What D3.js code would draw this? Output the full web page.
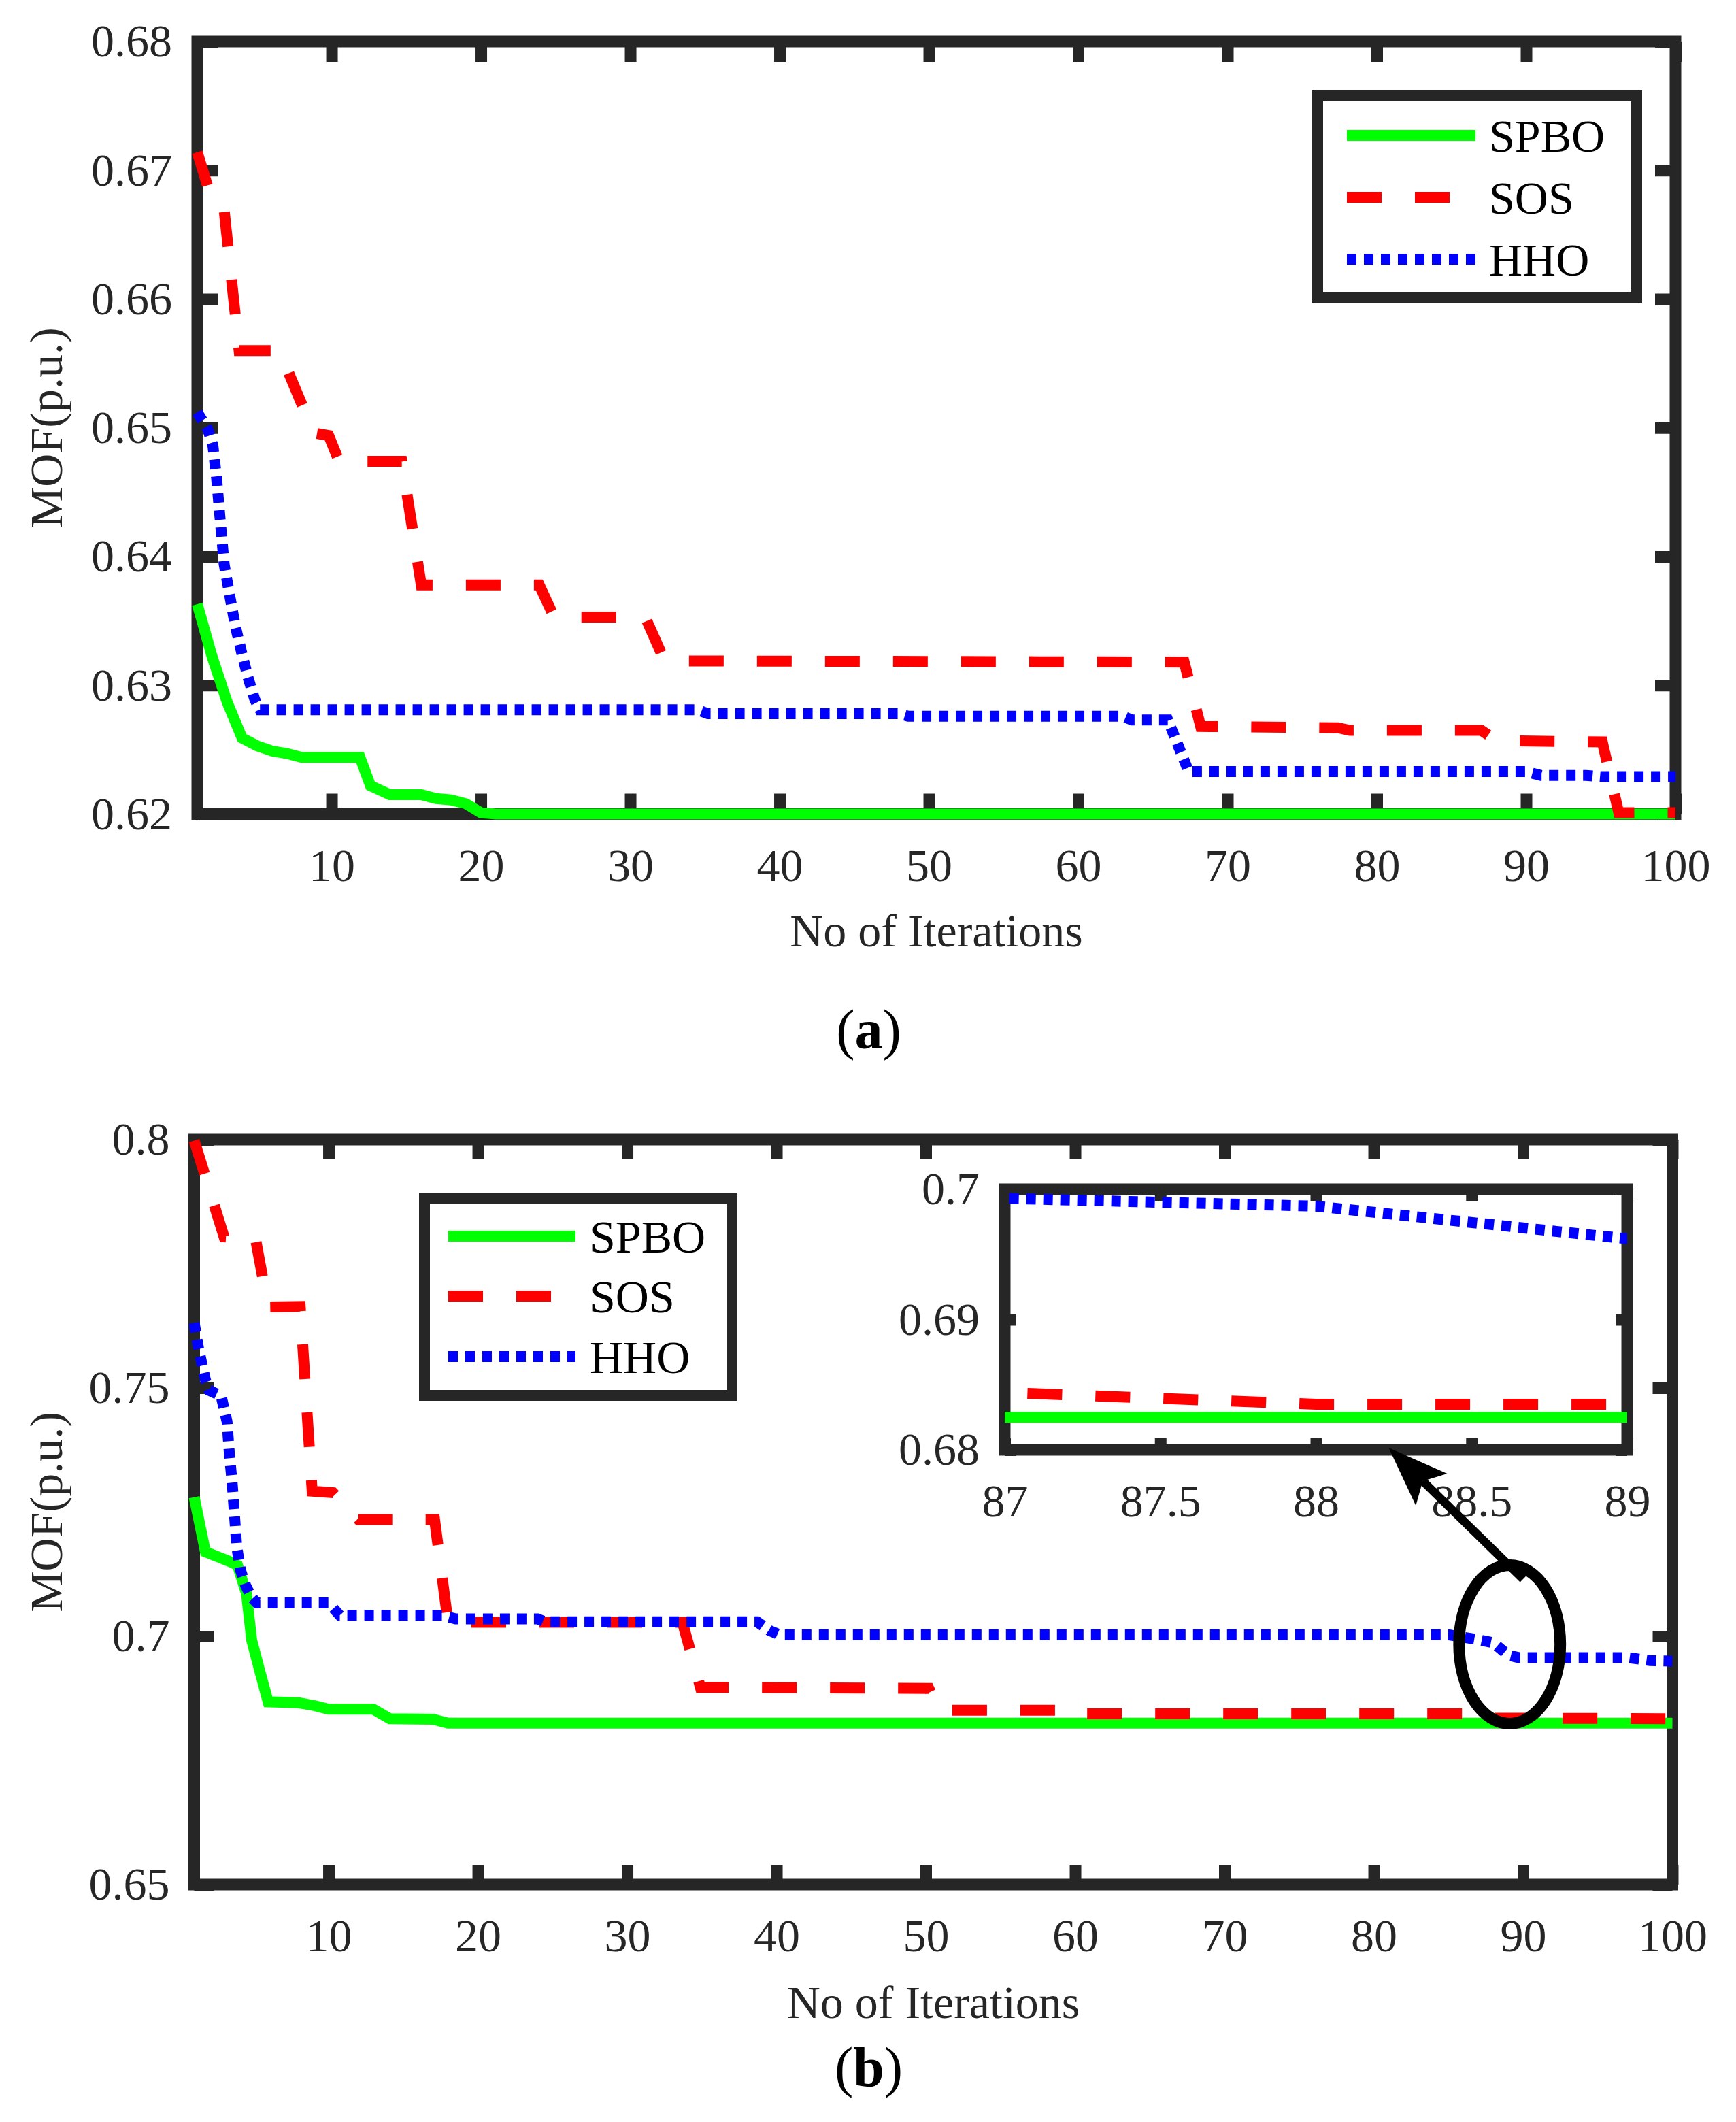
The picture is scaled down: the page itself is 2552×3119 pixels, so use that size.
<!DOCTYPE html>
<html>
<head>
<meta charset="utf-8">
<script src="https://cdn.jsdelivr.net/npm/d3@7/dist/d3.min.js"></script>
<style>
  html, body { margin: 0; padding: 0; background: #ffffff; }
  svg { display: block; }
</style>
</head>
<body>
<svg id="chart" width="2552" height="3119"></svg>
<script>
// ---------------- DATA ----------------
const seriesNames = ["SPBO", "SOS", "HHO"];
const iterationTicks = [10, 20, 30, 40, 50, 60, 70, 80, 90, 100];
const mofTicksA = [0.62, 0.63, 0.64, 0.65, 0.66, 0.67, 0.68];
const mofTicksB = [0.65, 0.7, 0.75, 0.8];
const insetIterTicks = [87, 87.5, 88, 88.5, 89];
const insetMofTicks = [0.68, 0.69, 0.7];
const iterDomain = [1, 100];
const mofDomainA = [0.62, 0.68];
const mofDomainB = [0.65, 0.8];
const insetIterDomain = [87, 89];
const insetMofDomain = [0.68, 0.7];

// panel (a): [iteration, MOF]
const spboA = [[1,0.6363],[2,0.6322],[3,0.6287],[4,0.6259],[5,0.6253],[6,0.6249],[7,0.6247],[8,0.6244],
  [11.9,0.6244],[12.6,0.6222],[13.9,0.6215],[16,0.6215],[17,0.6212],[18,0.6211],[19,0.6208],[20,0.6201],
  [21,0.6200],[100,0.6200]];
const sosA = [[1,0.6714],[2,0.6676],[2.8,0.6669],[3.8,0.6560],[6.5,0.6560],[8.8,0.6496],[9.8,0.6494],
  [10.5,0.6474],[14.7,0.6474],[16.0,0.6378],[23.9,0.6378],[24.9,0.6353],[31.0,0.6353],[32.3,0.6319],
  [67.1,0.6318],[68.2,0.6268],[77.4,0.6267],[78.2,0.6265],[87.0,0.6265],[88.0,0.6257],[95.1,0.6256],
  [96.2,0.6201],[100,0.6201]];
const hhoA = [[1,0.6512],[1.7,0.6499],[2.05,0.6486],[2.3,0.6460],[2.5,0.6433],[2.8,0.6394],[3.2,0.6368],
  [3.55,0.6346],[4.0,0.6324],[4.4,0.6306],[4.85,0.6289],[5.2,0.6281],[34.5,0.6281],[35.2,0.6278],
  [48,0.6278],[48.6,0.6276],[63,0.6276],[63.6,0.6273],[66,0.6273],[67.4,0.6233],[90,0.6233],[91,0.6230],
  [94,0.6230],[95,0.6229],[100,0.6229]];

// panel (b): [iteration, MOF]
const spboB = [[1,0.7280],[1.75,0.7170],[3.5,0.7149],[3.9,0.7143],[4.5,0.7086],[4.85,0.6992],[5.4,0.6929],
  [5.95,0.6868],[8.0,0.6866],[9.1,0.6860],[10.0,0.6853],[13.0,0.6853],[14.1,0.6834],[17.0,0.6833],
  [18.0,0.6825],[100,0.6825]];
const sosB = [[1,0.7998],[3,0.7804],[5.1,0.7801],[5.95,0.7663],[8.1,0.7664],[8.9,0.7292],[10.3,0.7289],
  [12.0,0.7235],[17.1,0.7235],[18.0,0.7028],[33.7,0.7028],[34.9,0.6897],[50.2,0.6895],[50.9,0.6851],
  [60.3,0.6851],[60.6,0.6844],[87,0.6844],[88,0.6835],[100,0.6834]];
const hhoB = [[1,0.7631],[1.3,0.7578],[1.75,0.7516],[2.0,0.7495],[2.8,0.7484],[3.2,0.7432],[3.35,0.7369],
  [3.55,0.7306],[3.7,0.7243],[3.85,0.7180],[4.1,0.7133],[4.45,0.7102],[4.85,0.7078],[5.2,0.7067],
  [10.0,0.7067],[10.75,0.7042],[17.6,0.7042],[18.5,0.7035],[24,0.7035],[24.5,0.7029],[38.7,0.7029],
  [39.5,0.7012],[40.2,0.7003],[85,0.7003],[86,0.6998],[87,0.6993],[88,0.6987],[89,0.6962],[89.7,0.6957],
  [97,0.6957],[98.5,0.6951],[100,0.6950]];

// annotation in panel (b) data coordinates
const zoomEllipse = { iter: 89.1, mof: 0.69836, iterRadius: 3.39, mofRadius: 0.01596 };
const zoomArrow = { fromIter: 90.0, fromMof: 0.7115, toIter: 81.0, toMof: 0.73795 };

// ---------------- STYLE / LAYOUT ----------------
const AXC = "#262626";
const FONT = "'Liberation Serif','Times New Roman',Times,serif";
const FS = 68;
const AXW = 17;
const LW = 16;
const lineStyle = {
  SPBO: { color: "#00ff00", dash: null },
  SOS:  { color: "#ff0000", dash: "51 49" },
  HHO:  { color: "#0000ff", dash: "14 11" }
};

const svg = d3.select("#chart");
svg.append("rect").attr("width", 2552).attr("height", 3119).attr("fill", "#ffffff");

function drawFrame(g, x, y, xt, yt, tickLen, fmtX, fmtY, padX, padY) {
  const mk = (axis, tr, fmt, pad) => {
    const a = g.append("g").attr("transform", tr)
      .call(axis.tickSizeInner(-tickLen).tickSizeOuter(0).tickPadding(pad).tickFormat(fmt));
    a.select(".domain").remove();
    a.attr("font-size", null).attr("font-family", null);
    a.selectAll(".tick line").attr("stroke", AXC).attr("stroke-width", AXW).attr("stroke-linecap", "butt");
    a.selectAll(".tick text").attr("fill", AXC).style("font-size", FS + "px").style("font-family", FONT);
  };
  const [x0, x1] = x.range();
  const [yb, yt0] = y.range();
  mk(d3.axisBottom(x).tickValues(xt), `translate(0,${yb})`, fmtX, padX);
  mk(d3.axisTop(x).tickValues(xt), `translate(0,${yt0})`, () => "", 0);
  mk(d3.axisLeft(y).tickValues(yt), `translate(${x0},0)`, fmtY, padY);
  mk(d3.axisRight(y).tickValues(yt), `translate(${x1},0)`, () => "", 0);
  g.append("rect").attr("x", x0).attr("y", yt0).attr("width", x1 - x0).attr("height", yb - yt0)
    .attr("fill", "none").attr("stroke", AXC).attr("stroke-width", AXW).attr("stroke-linejoin", "miter");
}

function drawSeries(g, x, y, seriesList, clipId) {
  const line = d3.line().x(d => x(d[0])).y(d => y(d[1]));
  const lg = g.append("g");
  if (clipId) lg.attr("clip-path", `url(#${clipId})`);
  seriesList.forEach(s => {
    const st = lineStyle[s.name];
    lg.append("path").datum(s.values)
      .attr("d", line).attr("fill", "none")
      .attr("stroke", st.color).attr("stroke-width", LW)
      .attr("stroke-dasharray", st.dash)
      .attr("stroke-linejoin", "miter").attr("stroke-linecap", "butt");
  });
}

function drawLegend(g, box, rows, lineX0, lineX1, textX) {
  g.append("rect").attr("x", box.x).attr("y", box.y).attr("width", box.w).attr("height", box.h)
    .attr("fill", "#ffffff").attr("stroke", AXC).attr("stroke-width", 16);
  seriesNames.forEach((name, i) => {
    const st = lineStyle[name];
    g.append("line").attr("x1", lineX0).attr("x2", lineX1).attr("y1", rows[i]).attr("y2", rows[i])
      .attr("stroke", st.color).attr("stroke-width", LW).attr("stroke-dasharray", st.dash);
    g.append("text").attr("x", textX).attr("y", rows[i]).attr("dy", "0.35em")
      .style("font-family", FONT).style("font-size", FS + "px").attr("fill", "#000").text(name);
  });
}

function axisLabels(g, x, y, labelBaseline, yLabelX) {
  const [x0, x1] = x.range();
  const [yb, yt] = y.range();
  g.append("text").attr("x", (x0 + x1) / 2).attr("y", labelBaseline).attr("text-anchor", "middle")
    .style("font-family", FONT).style("font-size", FS + "px").attr("fill", AXC).text("No of Iterations");
  const cy = (yb + yt) / 2;
  g.append("text").attr("transform", `translate(${yLabelX},${cy}) rotate(-90)`).attr("text-anchor", "middle")
    .style("font-family", FONT).style("font-size", FS + "px").attr("fill", AXC).text("MOF(p.u.)");
}

function panelTag(g, cx, baseline, letter) {
  const t = g.append("text").attr("x", cx).attr("y", baseline).attr("text-anchor", "middle")
    .style("font-family", FONT).style("font-size", "82px").attr("fill", "#000");
  t.append("tspan").text("(");
  t.append("tspan").attr("font-weight", "bold").text(letter);
  t.append("tspan").text(")");
}

const fmtMof = d => String(+d.toFixed(3));
const fmtIter = d => String(d);

// ---------------- PANEL (a) ----------------
const gA = svg.append("g");
const xA = d3.scaleLinear().domain(iterDomain).range([290, 2463]);
const yA = d3.scaleLinear().domain(mofDomainA).range([1196.5, 61]);
drawFrame(gA, xA, yA, iterationTicks, mofTicksA, 30, fmtIter, d => d.toFixed(2), 50, 37);
drawSeries(gA, xA, yA, [{name:"SPBO", values: spboA}, {name:"SOS", values: sosA}, {name:"HHO", values: hhoA}]);
drawLegend(gA, {x:1937, y:141, w:469, h:296}, [199, 290, 381], 1980, 2169, 2189);
axisLabels(gA, xA, yA, 1391, 91);
panelTag(gA, 1277, 1541, "a");

// ---------------- PANEL (b) ----------------
const gB = svg.append("g");
const xB = d3.scaleLinear().domain(iterDomain).range([285.5, 2458.5]);
const yB = d3.scaleLinear().domain(mofDomainB).range([2770, 1675]);
drawFrame(gB, xB, yB, iterationTicks, mofTicksB, 29, fmtIter, fmtMof, 50, 36);
const seriesB = [{name:"SPBO", values: spboB}, {name:"SOS", values: sosB}, {name:"HHO", values: hhoB}];
drawSeries(gB, xB, yB, seriesB);
drawLegend(gB, {x:624, y:1761, w:452, h:290}, [1817, 1905, 1994], 659, 846, 867);
axisLabels(gB, xB, yB, 2966, 91);
panelTag(gB, 1277, 3066, "b");

// ---------------- INSET (zoom of panel b) ----------------
const gI = svg.append("g");
const xI = d3.scaleLinear().domain(insetIterDomain).range([1477, 2392]);
const yI = d3.scaleLinear().domain(insetMofDomain).range([2131, 1748]);
gI.append("rect").attr("x", 1477).attr("y", 1748).attr("width", 915).attr("height", 383).attr("fill", "#ffffff");
svg.append("defs").append("clipPath").attr("id", "insetClip")
  .append("rect").attr("x", 1477).attr("y", 1748).attr("width", 915).attr("height", 383);
drawFrame(gI, xI, yI, insetIterTicks, insetMofTicks, 17, fmtIter, fmtMof, 50, 37);
drawSeries(gI, xI, yI, seriesB, "insetClip");

// ---------------- ANNOTATION ----------------
const gN = svg.append("g");
const ecx = xB(zoomEllipse.iter), ecy = yB(zoomEllipse.mof);
const erx = xB(zoomEllipse.iter + zoomEllipse.iterRadius) - ecx;
const ery = ecy - yB(zoomEllipse.mof + zoomEllipse.mofRadius);
gN.append("ellipse").attr("cx", ecx).attr("cy", ecy).attr("rx", erx).attr("ry", ery)
  .attr("fill", "none").attr("stroke", "#000").attr("stroke-width", 17);

const tip = [xB(zoomArrow.toIter), yB(zoomArrow.toMof)];
const tail = [xB(zoomArrow.fromIter), yB(zoomArrow.fromMof)];
const dx = tail[0] - tip[0], dy = tail[1] - tip[1];
const len = Math.hypot(dx, dy);
const u = [dx / len, dy / len], n = [-u[1], u[0]];
const headL = 88, headW = 33, notch = 70;
const notchPt = [tip[0] + u[0] * notch, tip[1] + u[1] * notch];
gN.append("line").attr("x1", notchPt[0]).attr("y1", notchPt[1]).attr("x2", tail[0]).attr("y2", tail[1])
  .attr("stroke", "#000").attr("stroke-width", 12.5);
const head = [
  tip,
  [tip[0] + u[0] * headL + n[0] * headW, tip[1] + u[1] * headL + n[1] * headW],
  notchPt,
  [tip[0] + u[0] * headL - n[0] * headW, tip[1] + u[1] * headL - n[1] * headW]
];
gN.append("path").attr("d", d3.line()(head) + "Z").attr("fill", "#000");
</script>
</body>
</html>
